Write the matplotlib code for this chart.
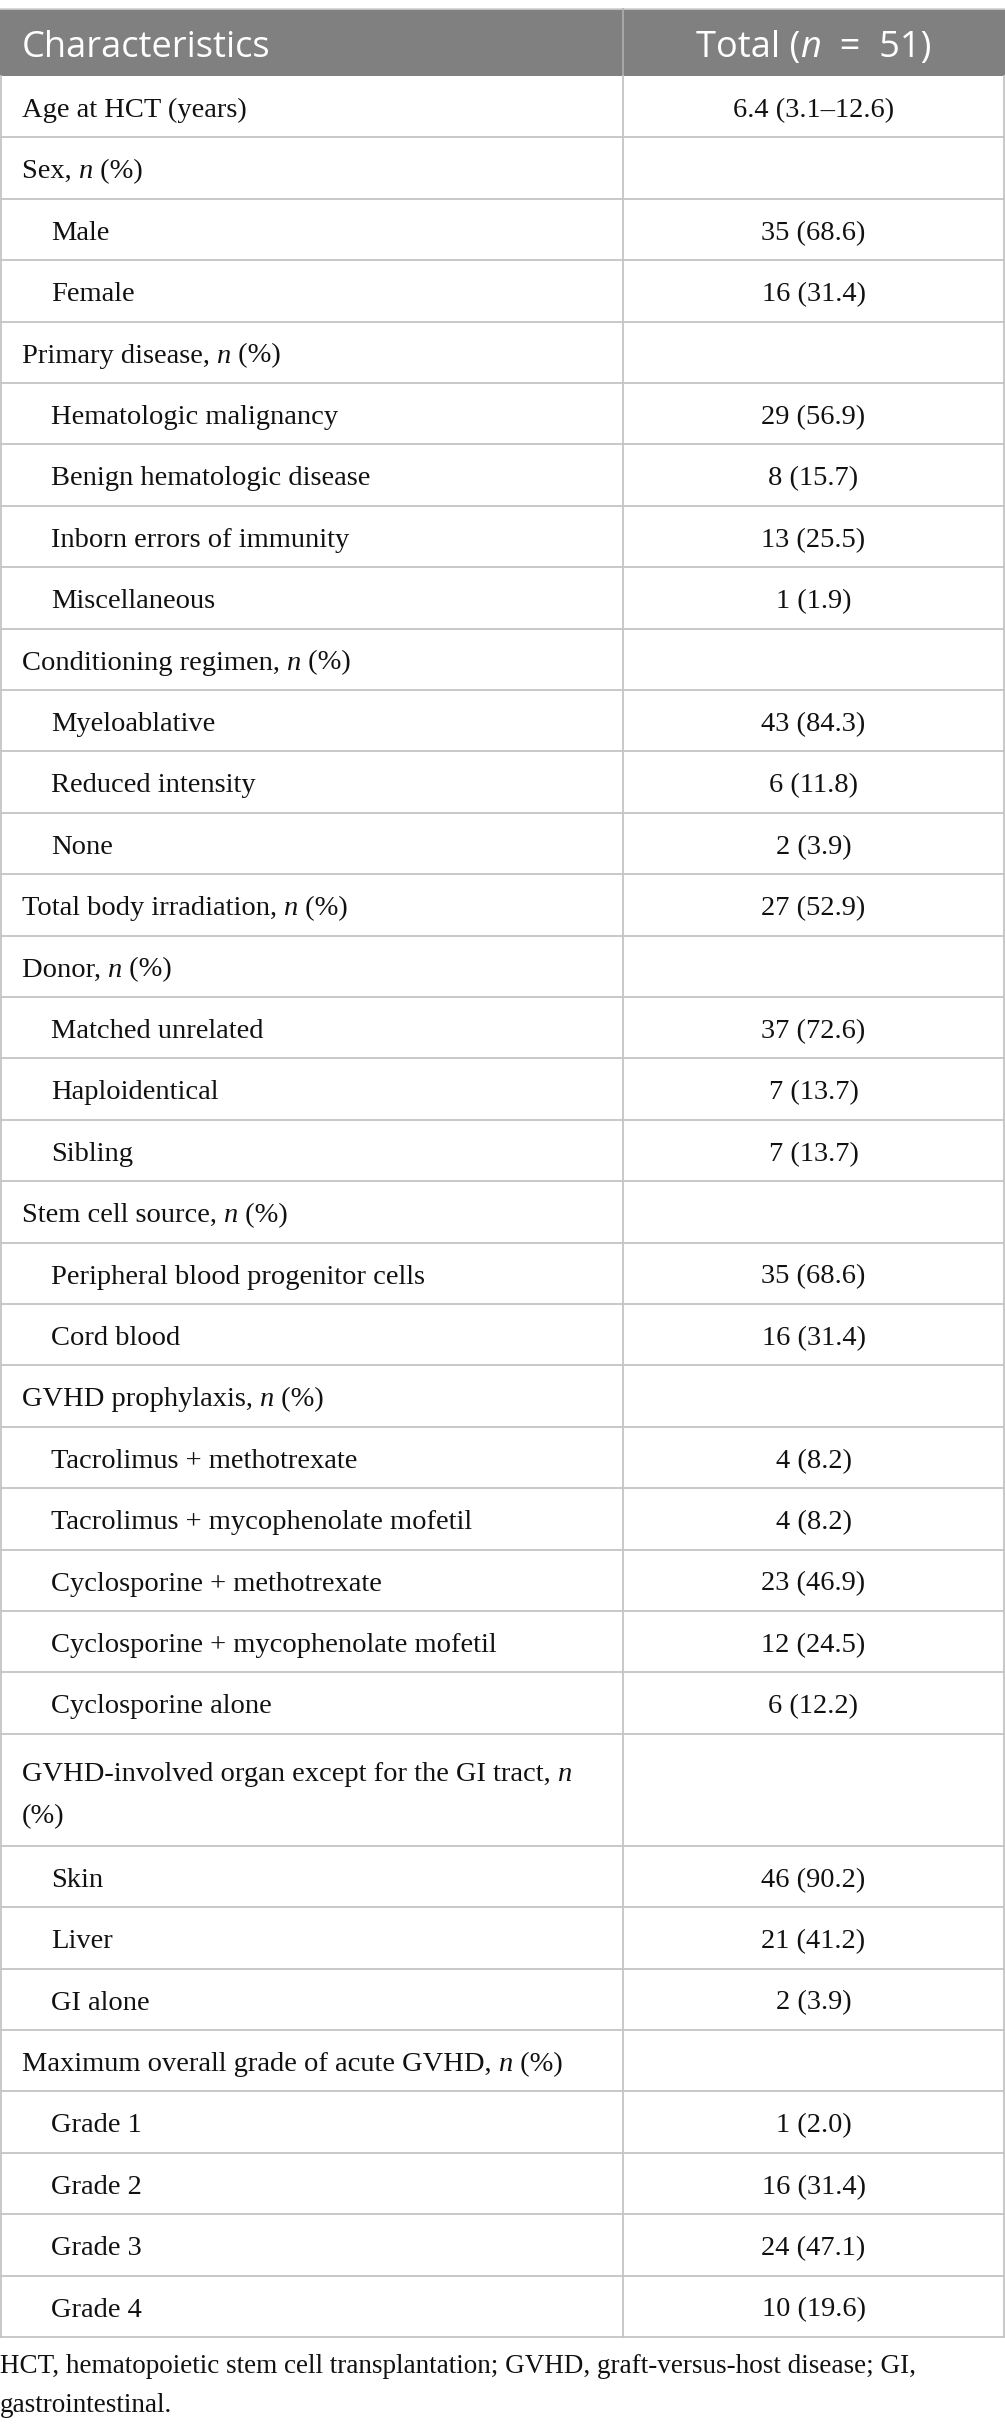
import matplotlib
matplotlib.use('Agg')
import matplotlib.pyplot as plt
from matplotlib.patches import Rectangle

# table content ("{n}" marks the italic n)
header_left = "Characteristics"
header_right = "Total ({n}  =  51)"

labels = [
    "Age at HCT (years)",
    "Sex, {n} (%)",
    "Male",
    "Female",
    "Primary disease, {n} (%)",
    "Hematologic malignancy",
    "Benign hematologic disease",
    "Inborn errors of immunity",
    "Miscellaneous",
    "Conditioning regimen, {n} (%)",
    "Myeloablative",
    "Reduced intensity",
    "None",
    "Total body irradiation, {n} (%)",
    "Donor, {n} (%)",
    "Matched unrelated",
    "Haploidentical",
    "Sibling",
    "Stem cell source, {n} (%)",
    "Peripheral blood progenitor cells",
    "Cord blood",
    "GVHD prophylaxis, {n} (%)",
    "Tacrolimus + methotrexate",
    "Tacrolimus + mycophenolate mofetil",
    "Cyclosporine + methotrexate",
    "Cyclosporine + mycophenolate mofetil",
    "Cyclosporine alone",
    "GVHD-involved organ except for the GI tract, {n}\n(%)",
    "Skin",
    "Liver",
    "GI alone",
    "Maximum overall grade of acute GVHD, {n} (%)",
    "Grade 1",
    "Grade 2",
    "Grade 3",
    "Grade 4",
]

levels = [0, 0, 1, 1, 0, 1, 1, 1, 1, 0, 1, 1, 1, 0, 0, 1, 1, 1, 0, 1, 1,
          0, 1, 1, 1, 1, 1, 0, 1, 1, 1, 0, 1, 1, 1, 1]

values = [
    "6.4 (3.1–12.6)", "", "35 (68.6)", "16 (31.4)", "",
    "29 (56.9)", "8 (15.7)", "13 (25.5)", "1 (1.9)", "",
    "43 (84.3)", "6 (11.8)", "2 (3.9)", "27 (52.9)", "",
    "37 (72.6)", "7 (13.7)", "7 (13.7)", "", "35 (68.6)", "16 (31.4)",
    "", "4 (8.2)", "4 (8.2)", "23 (46.9)", "12 (24.5)", "6 (12.2)",
    "", "46 (90.2)", "21 (41.2)", "2 (3.9)",
    "", "1 (2.0)", "16 (31.4)", "24 (47.1)", "10 (19.6)",
]

footnote = ["HCT, hematopoietic stem cell transplantation; GVHD, graft-versus-host disease; GI,",
            "gastrointestinal."]

W, H = 1005, 2430
fig = plt.figure(figsize=(W / 100, H / 100), dpi=100)
ax = fig.add_axes([0, 0, 1, 1])
ax.set_xlim(0, W)
ax.set_ylim(H, 0)
ax.axis('off')
renderer = fig.canvas.get_renderer()

SERIF = 'Liberation Serif'
SANS = 'Open Sans'
body_size = 20.5
head_size = 26
text_col = '#111111'
line_col = '#c4c4c4'
head_col = '#808080'

x_left, x_div, x_right = 1, 623, 1004
head_top, head_bot = 9, 76
row_h, row_h2 = 61.4, 112


def text_width(s, **kw):
    a = ax.text(0, 0, "|" + s + "|", **kw)
    b = ax.text(0, 0, "||", **kw)
    w = a.get_window_extent(renderer).width - b.get_window_extent(renderer).width
    a.remove()
    b.remove()
    return w


def draw_runs(x, y, text, size, family, color=text_col, ha='left'):
    parts = text.split("{n}")
    runs = []
    for i, p in enumerate(parts):
        if p:
            runs.append((p, 'normal'))
        if i < len(parts) - 1:
            runs.append(('n', 'italic'))
    widths = [text_width(s, fontsize=size, family=family, style=st) for s, st in runs]
    x0 = x - sum(widths) / 2 if ha == 'center' else x
    for (s, st), w in zip(runs, widths):
        ax.text(x0, y, s, fontsize=size, family=family, style=st, color=color, va='baseline')
        x0 += w


# header band
ax.add_patch(Rectangle((0, head_top), W, head_bot - head_top, color=head_col, lw=0))
ax.plot([0, W], [head_top, head_top], color='#d0d0d0', lw=1.2)
ax.plot([x_div, x_div], [head_top, head_bot], color='#b0b0b0', lw=1.2)
draw_runs(22, 57, header_left, head_size, SANS, color='white')
draw_runs((x_div + x_right) / 2, 57, header_right, head_size, SANS, color='white', ha='center')

# body rows
y = head_bot
for lab, lev, val in zip(labels, levels, values):
    lines = lab.split("\n")
    h = row_h if len(lines) == 1 else row_h2
    xl = 22 if lev == 0 else 51
    if len(lines) == 1:
        draw_runs(xl, y + 41, lab, body_size, SERIF)
        if val:
            draw_runs((x_div + x_right) / 2, y + 41, val, body_size, SERIF, ha='center')
    else:
        for k, ln in enumerate(lines):
            draw_runs(xl, y + 47 + 42 * k, ln, body_size, SERIF)
    y += h
    ax.plot([0, W], [y, y], color=line_col, lw=1.3)

table_bot = y
for xv in (x_left, x_div, x_right):
    ax.plot([xv, xv], [head_bot, table_bot], color=line_col, lw=1.3)

# footnote
for k, ln in enumerate(footnote):
    ax.text(0, table_bot + 36 + 39 * k, ln, fontsize=19.5, family=SERIF,
            color=text_col, va='baseline')

fig.savefig('out.png', dpi=100)
